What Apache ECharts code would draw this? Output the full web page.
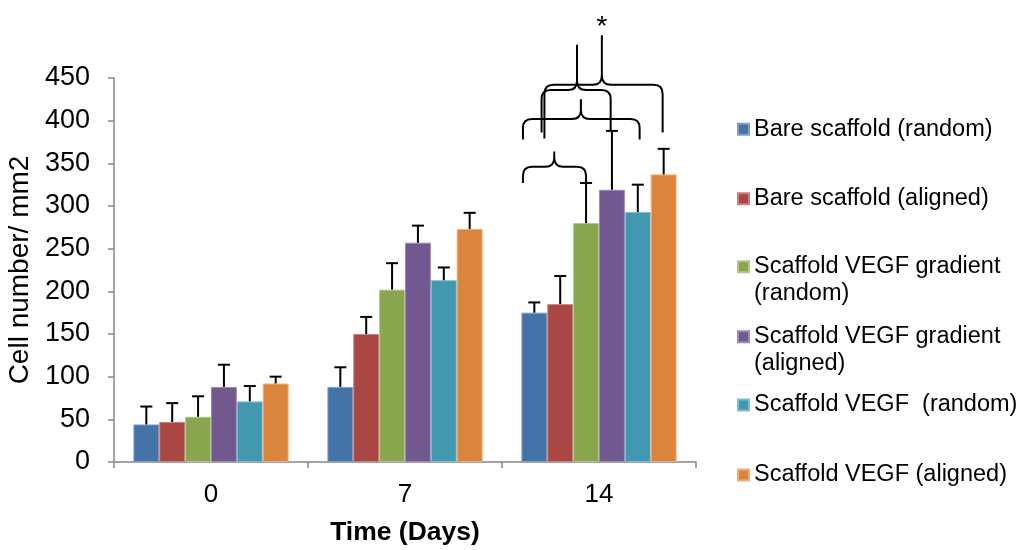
<!DOCTYPE html>
<html>
<head>
<meta charset="utf-8">
<script src="https://cdn.jsdelivr.net/npm/echarts@6/dist/echarts.min.js"></script>
<style>
  html, body { margin: 0; padding: 0; background: #fff; }
  #chart { width: 1026px; height: 550px; }
</style>
</head>
<body>
<div id="chart"></div>
<script>
// Time points (days)
const days = ['0', '7', '14'];

// Group names
const seriesNames = [
  'Bare scaffold (random)',
  'Bare scaffold (aligned)',
  'Scaffold VEGF gradient (random)',
  'Scaffold VEGF gradient (aligned)',
  'Scaffold VEGF  (random)',
  'Scaffold VEGF (aligned)'
];

// Mean cell number / mm2 at day 0, 7, 14 for each group
const bareRandom       = [44, 88, 175];
const bareAligned      = [47, 150, 185];
const gradientRandom   = [53, 202, 280];
const gradientAligned  = [88, 257, 319];
const vegfRandom       = [71, 213, 293];
const vegfAligned      = [92, 273, 337];

// Standard deviations (upper error bars)
const bareRandomSd      = [21, 23, 12];
const bareAlignedSd     = [22, 20, 33];
const gradientRandomSd  = [24, 31, 47];
const gradientAlignedSd = [26, 20, 69];
const vegfRandomSd      = [18, 15, 32];
const vegfAlignedSd     = [8, 19, 30];

// Y-axis ticks
const yTicks = [0, 50, 100, 150, 200, 250, 300, 350, 400, 450];

// Significance brackets over day 14: slot offsets (bar widths from group centre)
// and heights in cells/mm2
const braceLeft      = [-2.94, -2.94, -2.22, -2.11];
const braceRight     = [-0.5, 1.57, 0.45, 2.46];
const bracePeak      = [-1.73, -0.70, -0.85, 0.11];
const braceLeftEnd   = [327, 378, 386, 379];
const braceRightEnd  = [327, 378, 388, 386];
const braceLevel     = [346, 402, 436, 442];
const braceTop       = [364, 425, 489, 500];
const braceMark      = ['', '', '', '*'];

const means = [bareRandom, bareAligned, gradientRandom, gradientAligned, vegfRandom, vegfAligned];
const sds = [bareRandomSd, bareAlignedSd, gradientRandomSd, gradientAlignedSd, vegfRandomSd, vegfAlignedSd];

const colors = ['#4572A7', '#AA4643', '#89A54E', '#71588F', '#4198AF', '#DB843D'];
const edgeColors = ['#7d9fc8', '#cb7f7d', '#b0c78a', '#9d88b6', '#7fbdcd', '#eeae7c'];

const FONT = '"Liberation Sans", Arial, sans-serif';
const CATEGORY_GAP = 0.2;

const chart = echarts.init(document.getElementById('chart'), null, { renderer: 'canvas' });

const barSeries = seriesNames.map((name, k) => ({
  type: 'bar',
  name: name,
  data: means[k],
  barGap: '0%',
  barCategoryGap: (CATEGORY_GAP * 100) + '%',
  itemStyle: { color: colors[k], borderColor: edgeColors[k], borderWidth: 1 },
  z: 2,
  silent: true
}));

function slotWidth(api) {
  return api.size([1, 0])[0] * (1 - CATEGORY_GAP) / seriesNames.length;
}

const errorSeries = seriesNames.map((name, k) => ({
  type: 'custom',
  name: name + ' SD',
  z: 4,
  silent: true,
  data: days.map((d, i) => [i, means[k][i], sds[k][i]]),
  renderItem(params, api) {
    const cat = api.value(0), mean = api.value(1), err = api.value(2);
    const slot = slotWidth(api);
    const cx = api.coord([cat, 0])[0] + (k - (seriesNames.length - 1) / 2) * slot;
    const yMean = api.coord([cat, mean])[1];
    const yTop = api.coord([cat, mean + err])[1];
    const cap = 6;
    const st = { stroke: '#000', lineWidth: 2, fill: null };
    return {
      type: 'group',
      children: [
        { type: 'line', shape: { x1: cx, y1: yMean, x2: cx, y2: yTop }, style: st },
        { type: 'line', shape: { x1: cx - cap, y1: yTop, x2: cx + cap, y2: yTop }, style: st }
      ]
    };
  }
}));

const braceSeries = {
  type: 'custom',
  name: 'brackets',
  z: 5,
  silent: true,
  clip: false,
  data: braceLevel.map((v, i) => [2, v]),
  renderItem(params, api) {
    const i = params.dataIndex;
    const slot = slotWidth(api);
    const cx0 = api.coord([2, 0])[0];
    const xL = cx0 + braceLeft[i] * slot;
    const xR = cx0 + braceRight[i] * slot;
    const xP = cx0 + bracePeak[i] * slot;
    const y = v => api.coord([2, v])[1];
    const yL = y(braceLeftEnd[i]), yR = y(braceRightEnd[i]);
    const yM = y(braceLevel[i]), yT = y(braceTop[i]);
    const r = Math.min(9, yL - yM, yR - yM);
    const rp = Math.min(9, yM - yT);
    const d = `M${xL},${yL} L${xL},${yM + r} Q${xL},${yM} ${xL + r},${yM} ` +
              `L${xP - rp},${yM} Q${xP},${yM} ${xP},${yM - rp} L${xP},${yT} ` +
              `M${xP},${yM - rp} Q${xP},${yM} ${xP + rp},${yM} ` +
              `L${xR - r},${yM} Q${xR},${yM} ${xR},${yM + r} L${xR},${yR}`;
    const children = [{
      type: 'path',
      shape: { pathData: d },
      style: { stroke: '#000', lineWidth: 2, fill: null }
    }];
    if (braceMark[i]) {
      children.push({
        type: 'text',
        style: {
          text: braceMark[i], x: xP, y: yT + 6,
          align: 'center', verticalAlign: 'bottom',
          font: `28px ${FONT}`, fill: '#000'
        }
      });
    }
    return { type: 'group', children };
  }
};

// Legend: one block per group so each sits at its own row.
// Wrapped names get a blank leading line so the swatch lines up with the first text line.
const iconCenters = [129.3, 198.7, 266.7, 336.7, 405, 475];
const LINE_H = 27;
const legends = seriesNames.map((name, k) => {
  const twoLine = name.indexOf('gradient') >= 0;
  return {
    show: true,
    left: 737,
    top: twoLine ? iconCenters[k] - LINE_H * 1.5 : iconCenters[k] - LINE_H / 2,
    padding: 0,
    orient: 'vertical',
    selectedMode: false,
    icon: 'rect',
    itemWidth: 11,
    itemHeight: 11,
    itemGap: 0,
    data: [name],
    formatter: n => twoLine ? '\u00a0\n' + n.replace('gradient ', 'gradient\n') : n,
    textStyle: {
      fontFamily: FONT,
      fontSize: 23.5,
      color: '#000',
      lineHeight: LINE_H
    }
  };
});

const option = {
  animation: false,
  backgroundColor: '#fff',
  color: colors,
  legend: legends,
  grid: {
    left: 114, right: 330, top: 78, bottom: 88,
    containLabel: false,
    outerBoundsMode: 'none'
  },
  xAxis: {
    type: 'category',
    data: days,
    boundaryGap: true,
    name: 'Time (Days)',
    nameLocation: 'middle',
    nameGap: 57,
    nameTextStyle: { fontFamily: FONT, fontSize: 26.5, fontWeight: 'bold', color: '#000' },
    axisLine: { show: true, lineStyle: { color: '#868686', width: 1.5 } },
    axisTick: { show: true, inside: false, length: 6, alignWithLabel: false, interval: 0,
                lineStyle: { color: '#868686', width: 1.5 } },
    axisLabel: { fontFamily: FONT, fontSize: 26, color: '#000', margin: 20, interval: 0 },
    splitLine: { show: false }
  },
  yAxis: {
    type: 'value',
    min: yTicks[0],
    max: yTicks[yTicks.length - 1],
    interval: yTicks[1] - yTicks[0],
    name: 'Cell number/ mm2',
    nameLocation: 'middle',
    nameRotate: 90,
    nameGap: 78,
    nameTextStyle: { fontFamily: FONT, fontSize: 28, color: '#000' },
    axisLine: { show: true, lineStyle: { color: '#868686', width: 1.5 } },
    axisTick: { show: true, inside: false, length: 6, lineStyle: { color: '#868686', width: 1.5 } },
    axisLabel: { fontFamily: FONT, fontSize: 27, color: '#000', margin: 24 },
    splitLine: { show: false }
  },
  series: [...barSeries, ...errorSeries, braceSeries]
};

chart.setOption(option);
</script>
</body>
</html>
